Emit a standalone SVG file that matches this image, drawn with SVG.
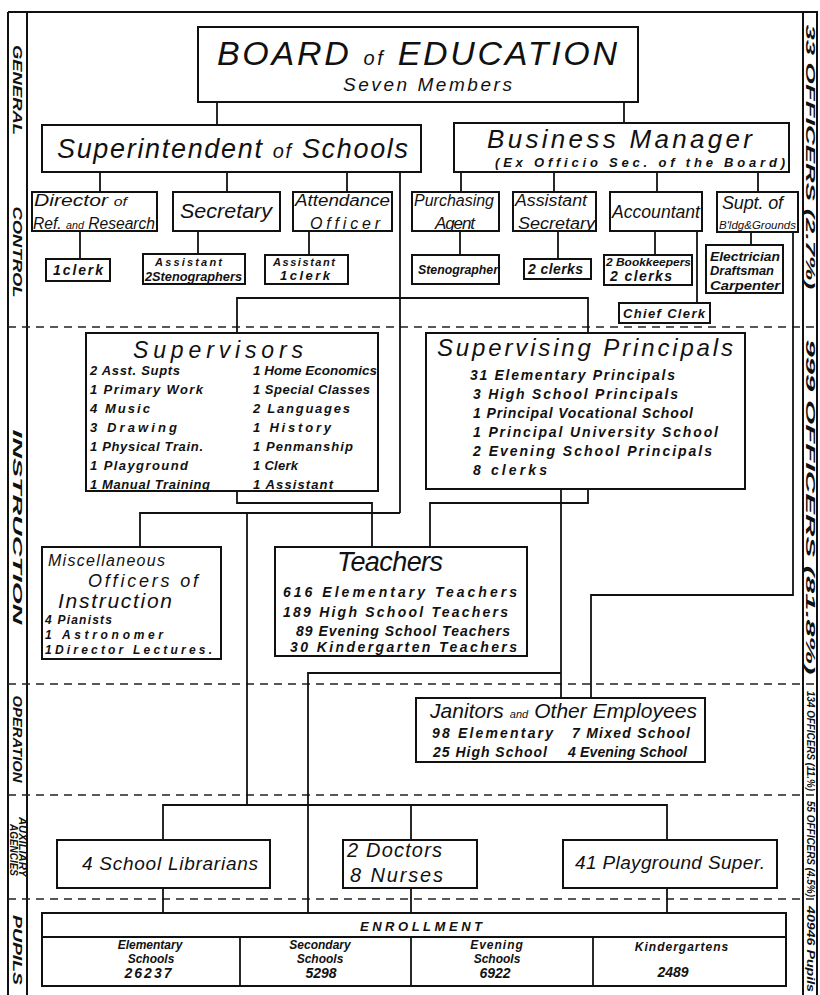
<svg xmlns="http://www.w3.org/2000/svg" width="820" height="995" viewBox="0 0 820 995">
<style>
.bx{fill:#fff;stroke:#111;stroke-width:2}
.ln{fill:none;stroke:#111;stroke-width:1.8}
.ds{fill:none;stroke:#222;stroke-width:1.5;stroke-dasharray:8 6}
.fr{fill:none;stroke:#111;stroke-width:2}
text{font-family:"Liberation Sans","DejaVu Sans",sans-serif;font-style:italic;fill:#111}
.b{font-weight:bold}
.sd{font-weight:bold;font-size:13px}
.sm{font-weight:bold;font-size:10px}
</style>
<rect width="820" height="995" fill="#fff"/>

<g id="frame">
<line class="fr" x1="8" y1="12" x2="818" y2="12"/>
<line class="fr" x1="8" y1="12" x2="8" y2="995"/>
<line class="fr" x1="27" y1="12" x2="27" y2="995"/>
<line class="fr" x1="803" y1="12" x2="803" y2="995"/>
<line class="fr" x1="817" y1="12" x2="817" y2="995"/>
<line class="ds" x1="8" y1="327" x2="818" y2="327"/>
<line class="ds" x1="8" y1="684" x2="818" y2="684"/>
<line class="ds" x1="8" y1="795" x2="818" y2="795"/>
<line class="ds" x1="8" y1="899" x2="818" y2="899"/>
</g>

<g id="side-labels">
<text class="sd" transform="translate(17.5,90) rotate(90)" text-anchor="middle" dominant-baseline="central" textLength="90" lengthAdjust="spacingAndGlyphs">GENERAL</text>
<text class="sd" transform="translate(17.5,252) rotate(90)" text-anchor="middle" dominant-baseline="central" textLength="91" lengthAdjust="spacingAndGlyphs">CONTROL</text>
<text class="sd" transform="translate(17.5,527) rotate(90)" text-anchor="middle" dominant-baseline="central" textLength="195" lengthAdjust="spacingAndGlyphs">INSTRUCTION</text>
<text class="sd" transform="translate(17.5,739) rotate(90)" text-anchor="middle" dominant-baseline="central" textLength="87" lengthAdjust="spacingAndGlyphs">OPERATION</text>
<text class="sm" font-size="9" transform="translate(22,847) rotate(90)" text-anchor="middle" dominant-baseline="central" textLength="60" lengthAdjust="spacingAndGlyphs">AUXILIARY</text>
<text class="sm" font-size="9" transform="translate(13,850) rotate(90)" text-anchor="middle" dominant-baseline="central" textLength="52" lengthAdjust="spacingAndGlyphs">AGENCIES</text>
<text class="sd" transform="translate(17.5,950) rotate(90)" text-anchor="middle" dominant-baseline="central" textLength="70" lengthAdjust="spacingAndGlyphs">PUPILS</text>
<text class="sd" transform="translate(810,157) rotate(90)" text-anchor="middle" dominant-baseline="central" textLength="265" lengthAdjust="spacingAndGlyphs">33 OFFICERS (2.7%)</text>
<text class="sd" transform="translate(810,507) rotate(90)" text-anchor="middle" dominant-baseline="central" textLength="335" lengthAdjust="spacingAndGlyphs">999 OFFICERS (81.8%)</text>
<text class="sm" transform="translate(810,741) rotate(90)" text-anchor="middle" dominant-baseline="central" textLength="100" lengthAdjust="spacingAndGlyphs">134 OFFICERS (11.%)</text>
<text class="sm" transform="translate(810,849) rotate(90)" text-anchor="middle" dominant-baseline="central" textLength="96" lengthAdjust="spacingAndGlyphs">55 OFFICERS (4.5%)</text>
<text class="sm" transform="translate(810,949) rotate(90)" text-anchor="middle" dominant-baseline="central" textLength="86" lengthAdjust="spacingAndGlyphs">40946 Pupils</text>
</g>

<g id="connectors">
<polyline class="ln" points="217,102 217,125"/>
<polyline class="ln" points="624,102 624,123"/>
<polyline class="ln" points="100,172 100,192"/>
<polyline class="ln" points="227,172 227,192"/>
<polyline class="ln" points="347,172 347,192"/>
<polyline class="ln" points="400,172 400,513"/>
<polyline class="ln" points="237,333 237,298 588,298 588,333"/>
<polyline class="ln" points="80,231 80,259"/>
<polyline class="ln" points="198,231 198,254"/>
<polyline class="ln" points="309,231 309,255"/>
<polyline class="ln" points="461,172 461,192"/>
<polyline class="ln" points="554,172 554,192"/>
<polyline class="ln" points="657,172 657,192"/>
<polyline class="ln" points="758,172 758,192"/>
<polyline class="ln" points="460,231 460,255"/>
<polyline class="ln" points="558,231 558,259"/>
<polyline class="ln" points="655,231 655,255"/>
<polyline class="ln" points="697,231 697,303"/>
<polyline class="ln" points="751,232 751,245"/>
<polyline class="ln" points="793,232 793,595 591,595 591,698"/>
<polyline class="ln" points="237,491 237,503 372,503 372,547"/>
<polyline class="ln" points="140,547 140,513 400,513"/>
<polyline class="ln" points="247,513 247,805"/>
<polyline class="ln" points="588,489 588,503 430,503 430,547"/>
<polyline class="ln" points="561,489 561,698"/>
<polyline class="ln" points="561,673 308,673 308,913"/>
<polyline class="ln" points="163,840 163,805 667,805 667,840"/>
<polyline class="ln" points="411,805 411,840"/>
<polyline class="ln" points="163,888 163,913"/>
<polyline class="ln" points="411,888 411,913"/>
<polyline class="ln" points="667,888 667,913"/>
</g>

<g id="board">
<rect class="bx" x="198" y="27" width="440" height="75"/>
<text x="217" y="65" font-size="34" textLength="400" lengthAdjust="spacing">BOARD <tspan font-size="20">of</tspan> EDUCATION</text>
<text x="343" y="91" font-size="19" textLength="169" lengthAdjust="spacing">Seven Members</text>
</g>

<g id="superintendent">
<rect class="bx" x="42" y="125" width="379" height="47"/>
<text x="57" y="158" font-size="27" textLength="351" lengthAdjust="spacing">Superintendent <tspan font-size="20">of</tspan> Schools</text>
</g>

<g id="business-manager">
<rect class="bx" x="454" y="123" width="335" height="49"/>
<text x="487" y="148" font-size="26" textLength="265" lengthAdjust="spacing">Business     Manager</text>
<text x="495" y="167" font-size="13" class="b" textLength="290" lengthAdjust="spacing">(Ex Officio   Sec. of the Board)</text>
</g>

<g id="director">
<rect class="bx" x="32" y="192" width="125" height="39"/>
<text x="34" y="206" font-size="16" textLength="93" lengthAdjust="spacingAndGlyphs">Director <tspan font-size="12">of</tspan></text>
<text x="33" y="229" font-size="16" textLength="122" lengthAdjust="spacingAndGlyphs">Ref. <tspan font-size="11">and</tspan> Research</text>
</g>
<g id="secretary">
<rect class="bx" x="173" y="192" width="107" height="39"/>
<text x="180" y="218" font-size="20" textLength="92" lengthAdjust="spacingAndGlyphs">Secretary</text>
</g>
<g id="attendance">
<rect class="bx" x="293" y="192" width="99" height="39"/>
<text x="295" y="206" font-size="16" textLength="95" lengthAdjust="spacingAndGlyphs">Attendance</text>
<text x="310" y="229" font-size="16" textLength="70" lengthAdjust="spacing">Officer</text>
</g>
<g id="clerk1">
<rect class="bx" x="46" y="259" width="64" height="22"/>
<text class="b" x="53" y="275" font-size="14" textLength="50" lengthAdjust="spacing">1clerk</text>
</g>
<g id="steno2">
<rect class="bx" x="143" y="254" width="102" height="30"/>
<text class="b" x="155" y="266" font-size="11" textLength="67" lengthAdjust="spacing">Assistant</text>
<text class="b" x="145" y="281" font-size="12" textLength="97" lengthAdjust="spacingAndGlyphs">2Stenographers</text>
</g>
<g id="asst-clerk">
<rect class="bx" x="265" y="255" width="83" height="29"/>
<text class="b" x="273" y="266" font-size="11" textLength="62" lengthAdjust="spacing">Assistant</text>
<text class="b" x="280" y="280" font-size="13" textLength="50" lengthAdjust="spacing">1clerk</text>
</g>

<g id="purchasing">
<rect class="bx" x="412" y="192" width="87" height="39"/>
<text x="414" y="206" font-size="16" textLength="80" lengthAdjust="spacingAndGlyphs">Purchasing</text>
<text x="435" y="229" font-size="17" textLength="40" lengthAdjust="spacing">Agent</text>
</g>
<g id="asst-secretary">
<rect class="bx" x="513" y="192" width="83" height="39"/>
<text x="515" y="206" font-size="16" textLength="72" lengthAdjust="spacingAndGlyphs">Assistant</text>
<text x="518" y="229" font-size="16" textLength="77" lengthAdjust="spacingAndGlyphs">Secretary</text>
</g>
<g id="accountant">
<rect class="bx" x="610" y="192" width="92" height="39"/>
<text x="612" y="218" font-size="18" textLength="88" lengthAdjust="spacingAndGlyphs">Accountant</text>
</g>
<g id="supt-bldg">
<rect class="bx" x="717" y="192" width="81" height="40"/>
<text x="722" y="209" font-size="18" textLength="61" lengthAdjust="spacing">Supt. of</text>
<text x="719" y="229" font-size="11" textLength="77" lengthAdjust="spacingAndGlyphs">B'ldg&amp;Grounds</text>
</g>
<g id="stenographer">
<rect class="bx" x="412" y="255" width="87" height="29"/>
<text class="b" x="418" y="274" font-size="13" textLength="80" lengthAdjust="spacingAndGlyphs">Stenographer</text>
</g>
<g id="clerks2">
<rect class="bx" x="524" y="259" width="67" height="20"/>
<text class="b" x="528" y="274" font-size="14" textLength="55" lengthAdjust="spacing">2 clerks</text>
</g>
<g id="bookkeepers">
<rect class="bx" x="604" y="255" width="88" height="30"/>
<text class="b" x="606" y="266" font-size="11" textLength="85" lengthAdjust="spacingAndGlyphs">2 Bookkeepers</text>
<text class="b" x="610" y="281" font-size="14" textLength="62" lengthAdjust="spacing">2 clerks</text>
</g>
<g id="chief-clerk">
<rect class="bx" x="619" y="303" width="91" height="20"/>
<text class="b" x="623" y="318" font-size="13" textLength="82" lengthAdjust="spacing">Chief Clerk</text>
</g>
<g id="electrician">
<rect class="bx" x="706" y="245" width="77" height="48"/>
<text class="b" x="710" y="261" font-size="12" textLength="70" lengthAdjust="spacingAndGlyphs">Electrician</text>
<text class="b" x="710" y="275" font-size="12" textLength="64" lengthAdjust="spacingAndGlyphs">Draftsman</text>
<text class="b" x="710" y="290" font-size="12" textLength="70" lengthAdjust="spacingAndGlyphs">Carpenter</text>
</g>

<g id="supervisors">
<rect class="bx" x="86" y="333" width="292" height="158"/>
<text x="133" y="358" font-size="23" textLength="170" lengthAdjust="spacing">Supervisors</text>
<g class="b" font-size="13">
<text x="90" y="375" textLength="90" lengthAdjust="spacing">2 Asst. Supts</text>
<text x="90" y="394" textLength="113" lengthAdjust="spacing">1 Primary Work</text>
<text x="90" y="413" textLength="60" lengthAdjust="spacing">4 Music</text>
<text x="90" y="432" textLength="87" lengthAdjust="spacing">3 Drawing</text>
<text x="90" y="451" textLength="113" lengthAdjust="spacing">1 Physical Train.</text>
<text x="90" y="470" textLength="98" lengthAdjust="spacing">1 Playground</text>
<text x="90" y="489" textLength="120" lengthAdjust="spacing">1 Manual Training</text>
<text x="253" y="375" textLength="124" lengthAdjust="spacingAndGlyphs">1 Home Economics</text>
<text x="253" y="394" textLength="117" lengthAdjust="spacing">1 Special Classes</text>
<text x="253" y="413" textLength="97" lengthAdjust="spacing">2 Languages</text>
<text x="253" y="432" textLength="78" lengthAdjust="spacing">1 History</text>
<text x="253" y="451" textLength="100" lengthAdjust="spacing">1 Penmanship</text>
<text x="253" y="470" textLength="45" lengthAdjust="spacing">1 Clerk</text>
<text x="253" y="489" textLength="80" lengthAdjust="spacing">1 Assistant</text>
</g>
</g>

<g id="supervising-principals">
<rect class="bx" x="426" y="333" width="319" height="156"/>
<text x="437" y="356" font-size="24" textLength="296" lengthAdjust="spacing">Supervising     Principals</text>
<g class="b" font-size="14">
<text x="470" y="380" textLength="205" lengthAdjust="spacing">31 Elementary Principals</text>
<text x="473" y="399" textLength="205" lengthAdjust="spacing">3 High School Principals</text>
<text x="473" y="418" textLength="220" lengthAdjust="spacing">1 Principal Vocational School</text>
<text x="473" y="437" textLength="245" lengthAdjust="spacing">1 Principal University School</text>
<text x="473" y="456" textLength="239" lengthAdjust="spacing">2 Evening School Principals</text>
<text x="473" y="475" textLength="74" lengthAdjust="spacing">8 clerks</text>
</g>
</g>

<g id="misc-officers">
<rect class="bx" x="42" y="547" width="179" height="112"/>
<text x="48" y="566" font-size="16" textLength="117" lengthAdjust="spacing">Miscellaneous</text>
<text x="88" y="587" font-size="18" textLength="110" lengthAdjust="spacing">Officers of</text>
<text x="58" y="608" font-size="21" textLength="114" lengthAdjust="spacing">Instruction</text>
<g class="b" font-size="12">
<text x="45" y="624" textLength="67" lengthAdjust="spacing">4 Pianists</text>
<text x="45" y="639" textLength="118" lengthAdjust="spacing">1 Astronomer</text>
<text x="45" y="654" textLength="167" lengthAdjust="spacing">1Director Lectures.</text>
</g>
</g>

<g id="teachers">
<rect class="bx" x="275" y="547" width="252" height="109"/>
<text x="337" y="571" font-size="27" textLength="106" lengthAdjust="spacing">Teachers</text>
<g class="b" font-size="14">
<text x="283" y="597" textLength="234" lengthAdjust="spacing">616 Elementary Teachers</text>
<text x="283" y="617" textLength="225" lengthAdjust="spacing">189 High School Teachers</text>
<text x="296" y="636" textLength="214" lengthAdjust="spacing">89 Evening School Teachers</text>
<text x="290" y="652" textLength="227" lengthAdjust="spacing">30 Kindergarten Teachers</text>
</g>
</g>

<g id="janitors">
<rect class="bx" x="416" y="698" width="289" height="64"/>
<text x="430" y="718" font-size="21" textLength="267" lengthAdjust="spacing">Janitors <tspan font-size="11">and</tspan> Other Employees</text>
<g class="b" font-size="14">
<text x="432" y="738" textLength="121" lengthAdjust="spacing">98 Elementary</text>
<text x="572" y="738" textLength="118" lengthAdjust="spacing">7 Mixed School</text>
<text x="433" y="757" textLength="114" lengthAdjust="spacing">25 High School</text>
<text x="568" y="757" textLength="119" lengthAdjust="spacing">4 Evening School</text>
</g>
</g>

<g id="librarians">
<rect class="bx" x="57" y="840" width="213" height="48"/>
<text x="82" y="870" font-size="19" textLength="176" lengthAdjust="spacing">4 School Librarians</text>
</g>
<g id="doctors">
<rect class="bx" x="343" y="840" width="134" height="48"/>
<text x="347" y="857" font-size="20" textLength="95" lengthAdjust="spacing">2 Doctors</text>
<text x="350" y="882" font-size="20" textLength="93" lengthAdjust="spacing">8 Nurses</text>
</g>
<g id="playground">
<rect class="bx" x="563" y="840" width="214" height="48"/>
<text x="575" y="869" font-size="19" textLength="190" lengthAdjust="spacing">41 Playground Super.</text>
</g>

<g id="enrollment">
<rect class="bx" x="42" y="913" width="744" height="73"/>
<line class="ln" x1="42" y1="937" x2="786" y2="937"/>
<line class="ln" x1="240" y1="937" x2="240" y2="986"/>
<line class="ln" x1="411" y1="937" x2="411" y2="986"/>
<line class="ln" x1="593" y1="937" x2="593" y2="986"/>
<text class="b" x="360" y="931" font-size="13" textLength="122" lengthAdjust="spacing">ENROLLMENT</text>
<g class="b" font-size="12" text-anchor="middle">
<text x="150" y="949">Elementary</text>
<text x="151" y="963">Schools</text>
<text x="149" y="978" font-size="14" letter-spacing="2">26237</text>
<text x="320" y="949">Secondary</text>
<text x="320" y="963">Schools</text>
<text x="321" y="978" font-size="14">5298</text>
<text x="497" y="949" letter-spacing="1">Evening</text>
<text x="497" y="963">Schools</text>
<text x="495" y="978" font-size="14">6922</text>
<text x="682" y="951" letter-spacing="1">Kindergartens</text>
<text x="673" y="977" font-size="14">2489</text>
</g>
</g>
</svg>
